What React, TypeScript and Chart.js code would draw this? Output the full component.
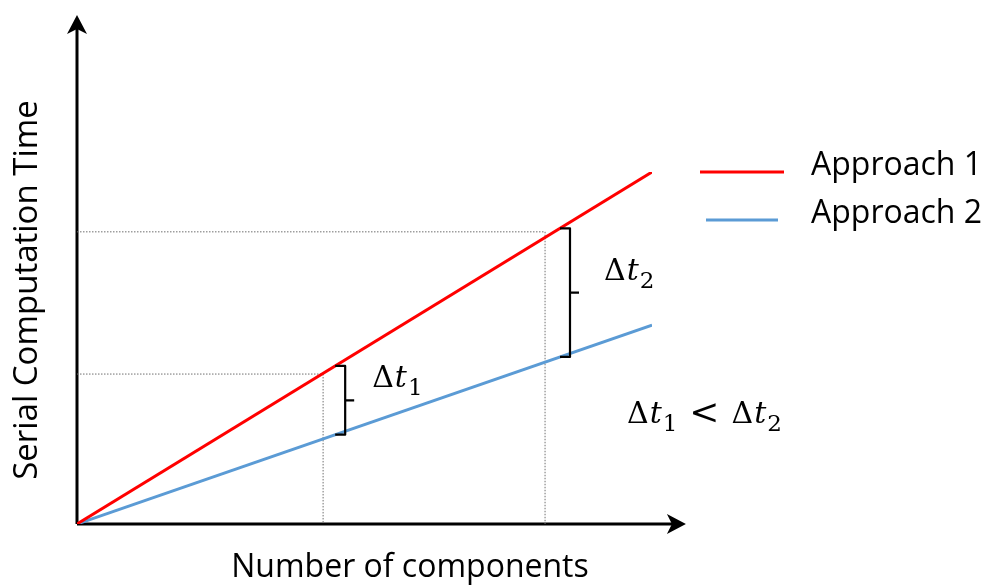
import { useEffect, useRef } from "react";
import { Chart, registerables } from "chart.js";

Chart.register(...registerables);

// Series: serial computation time against number of components
const components = [0, 10];
const approach1 = [0, 10];
const approach2 = [0, 5.65];
const seriesNames = ["Approach 1", "Approach 2"];
const seriesColors = ["#ff0000", "#5b9bd5"];

// Dotted reference guides (component count, time read from approach 1)
const guideX = [4.28, 8.14];
const guideY = [4.26, 8.3];

// Brace positions (component count) and their subscripts
const braceX = [4.49, 8.4];
const braceSubs = ["1", "2"];

const xTitle = "Number of components";
const yTitle = "Serial Computation Time";

// Extent of the drawn axes, in data units
const axisXMax = 10.59;
const axisYMax = 14.46;

const TEXT_FONT = '"Open Sans", "Noto Sans", sans-serif';
const MATH_FONT = '"DejaVu Serif", serif';
const MATH_SIZE = 30;

function interp(xs: number[], ys: number[], x: number) {
  for (let i = 0; i < xs.length - 1; i++) {
    if (x >= xs[i] && x <= xs[i + 1]) {
      const t = (x - xs[i]) / (xs[i + 1] - xs[i]);
      return ys[i] + t * (ys[i + 1] - ys[i]);
    }
  }
  return ys[ys.length - 1];
}

function drawDelta(ctx: CanvasRenderingContext2D, x: number, y: number, sub: string, size: number) {
  ctx.textAlign = "left";
  ctx.textBaseline = "alphabetic";
  ctx.font = `${size}px ${MATH_FONT}`;
  ctx.fillText("Δ", x, y);
  let cx = x + ctx.measureText("Δ").width + 1;
  ctx.font = `italic ${size}px ${MATH_FONT}`;
  ctx.fillText("t", cx, y);
  cx += ctx.measureText("t").width + 1;
  const s = Math.round(size * 0.76);
  ctx.font = `${s}px ${MATH_FONT}`;
  ctx.fillText(sub, cx, y + size * 0.27);
  return cx + ctx.measureText(sub).width;
}

function arrowHead(ctx: CanvasRenderingContext2D, tx: number, ty: number, dx: number, dy: number) {
  // notched arrow head pointing in direction (dx, dy)
  const len = 19;
  const half = 10;
  const notch = 5;
  const px = -dy;
  const py = dx;
  ctx.beginPath();
  ctx.moveTo(tx, ty);
  ctx.lineTo(tx - dx * len + px * half, ty - dy * len + py * half);
  ctx.lineTo(tx - dx * (len - notch), ty - dy * (len - notch));
  ctx.lineTo(tx - dx * len - px * half, ty - dy * len - py * half);
  ctx.closePath();
  ctx.fill();
}

const axesPlugin = {
  id: "axesArrows",
  beforeDatasetsDraw(chart: any) {
    const { ctx, scales } = chart;
    const x0 = scales.x.getPixelForValue(0);
    const y0 = scales.y.getPixelForValue(0);
    const xe = scales.x.getPixelForValue(axisXMax);
    const ye = scales.y.getPixelForValue(axisYMax);
    ctx.save();
    ctx.strokeStyle = "#000";
    ctx.fillStyle = "#000";
    ctx.lineWidth = 3;
    ctx.beginPath();
    ctx.moveTo(x0, y0);
    ctx.lineTo(xe - 12, y0);
    ctx.moveTo(x0, y0);
    ctx.lineTo(x0, ye + 12);
    ctx.stroke();
    arrowHead(ctx, xe, y0, 1, 0);
    arrowHead(ctx, x0, ye, 0, -1);
    ctx.restore();
  },
};

const notesPlugin = {
  id: "notes",
  afterDatasetsDraw(chart: any) {
    const { ctx, scales } = chart;
    ctx.save();
    ctx.fillStyle = "#000";
    ctx.strokeStyle = "#000";

    // braces spanning the gap between the two approaches
    braceX.forEach((bx, i) => {
      const left = scales.x.getPixelForValue(bx);
      const top = scales.y.getPixelForValue(interp(components, approach1, bx));
      const bottom = scales.y.getPixelForValue(interp(components, approach2, bx));
      const stem = left + 10;
      const mid = (top + bottom) / 2;
      ctx.lineWidth = 2.2;
      ctx.lineJoin = "round";
      ctx.beginPath();
      ctx.moveTo(left, top);
      ctx.lineTo(stem, top);
      ctx.lineTo(stem, bottom);
      ctx.lineTo(left, bottom);
      ctx.moveTo(stem, mid);
      ctx.lineTo(stem + 9, mid);
      ctx.stroke();
      drawDelta(ctx, stem + (i === 0 ? 27 : 34), mid - 13, braceSubs[i], MATH_SIZE);
    });

    // inequality note
    const area = chart.chartArea;
    const nx = area.right - 25;
    const ny = area.top + 251;
    let cx = drawDelta(ctx, nx, ny, braceSubs[0], MATH_SIZE);
    ctx.font = `36px ${MATH_FONT}`;
    cx += 12;
    ctx.fillText("<", cx, ny + 1);
    cx += ctx.measureText("<").width + 12;
    drawDelta(ctx, cx, ny, braceSubs[1], MATH_SIZE);

    // legend
    const legendY = [area.top, area.top + 48];
    const legendLine = [
      [700, 784],
      [706, 778],
    ];
    seriesNames.forEach((name, i) => {
      ctx.strokeStyle = seriesColors[i];
      ctx.lineWidth = 3;
      ctx.beginPath();
      ctx.moveTo(legendLine[i][0], legendY[i]);
      ctx.lineTo(legendLine[i][1], legendY[i]);
      ctx.stroke();
      ctx.fillStyle = "#000";
      ctx.font = `32px ${TEXT_FONT}`;
      ctx.textAlign = "left";
      ctx.textBaseline = "alphabetic";
      ctx.fillText(name, 811, legendY[i] + 3);
    });

    // axis titles
    ctx.fillStyle = "#000";
    ctx.font = `32px ${TEXT_FONT}`;
    ctx.textAlign = "center";
    ctx.textBaseline = "alphabetic";
    ctx.fillText(xTitle, 410, 577);
    ctx.font = `33px ${TEXT_FONT}`;
    ctx.translate(37, 290);
    ctx.rotate(-Math.PI / 2);
    ctx.fillText(yTitle, 0, 0);
    ctx.restore();
  },
};

export default function App() {
  const canvasRef = useRef<HTMLCanvasElement | null>(null);

  useEffect(() => {
    const canvas = canvasRef.current;
    if (!canvas) return;
    const guide = (gx: number, gy: number) => ({
      label: "guide",
      data: [
        { x: 0, y: gy },
        { x: gx, y: gy },
        { x: gx, y: 0 },
      ],
      borderColor: "#6f6f6f",
      borderWidth: 1,
      borderDash: [1.5, 1.5],
      pointRadius: 0,
      order: 3,
    });
    const chart = new Chart(canvas, {
      type: "line",
      data: {
        datasets: [
          {
            label: seriesNames[0],
            data: components.map((c, i) => ({ x: c, y: approach1[i] })),
            borderColor: seriesColors[0],
            borderWidth: 3,
            pointRadius: 0,
            order: 1,
          },
          {
            label: seriesNames[1],
            data: components.map((c, i) => ({ x: c, y: approach2[i] })),
            borderColor: seriesColors[1],
            borderWidth: 3,
            pointRadius: 0,
            order: 2,
          },
          ...guideX.map((gx, i) => guide(gx, guideY[i])),
        ],
      },
      options: {
        responsive: false,
        animation: false,
        layout: { padding: { left: 77, right: 335, top: 172, bottom: 63 } },
        scales: {
          x: { type: "linear", min: 0, max: 10, display: false },
          y: { type: "linear", min: 0, max: 10, display: false },
        },
        plugins: {
          legend: { display: false },
          tooltip: { enabled: false },
        },
        events: [],
      },
      plugins: [axesPlugin, notesPlugin],
    });
    return () => chart.destroy();
  }, []);

  return (
    <div style={{ position: "absolute", left: 0, top: 0, width: 987, height: 587, background: "#fff" }}>
      <canvas ref={canvasRef} width={987} height={587} />
    </div>
  );
}
